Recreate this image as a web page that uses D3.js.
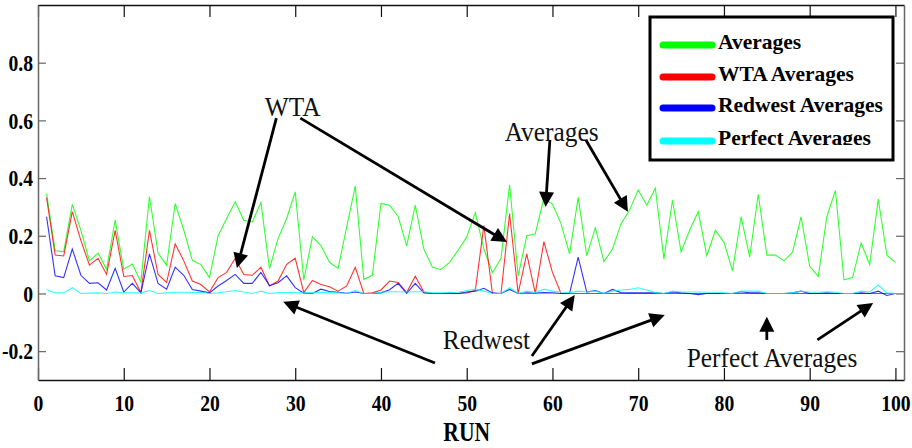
<!DOCTYPE html>
<html>
<head>
<meta charset="utf-8">
<script src="https://cdn.jsdelivr.net/npm/d3@7/dist/d3.min.js"></script>
<style>
  body { margin: 0; background: #fff; }
  svg { display: block; }
</style>
</head>
<body>
<div id="chart"></div>
<script>
//DATA
const runs = d3.range(1, 101);

const averages = [
  0.347, 0.148, 0.145, 0.309, 0.219, 0.113, 0.140, 0.084, 0.254, 0.084,
  0.102, 0.040, 0.336, 0.140, 0.098, 0.312, 0.220, 0.115, 0.100, 0.055,
  0.200, 0.260, 0.318, 0.254, 0.248, 0.315, 0.086, 0.190, 0.260, 0.352,
  0.046, 0.196, 0.166, 0.108, 0.087, 0.230, 0.372, 0.049, 0.063, 0.312,
  0.306, 0.267, 0.165, 0.306, 0.154, 0.091, 0.083, 0.108, 0.150, 0.196,
  0.280, 0.154, 0.072, 0.122, 0.377, 0.061, 0.200, 0.207, 0.330, 0.310,
  0.242, 0.137, 0.333, 0.131, 0.228, 0.110, 0.154, 0.242, 0.289, 0.359,
  0.306, 0.365, 0.119, 0.324, 0.144, 0.219, 0.284, 0.131, 0.219, 0.178,
  0.078, 0.266, 0.126, 0.344, 0.133, 0.133, 0.113, 0.143, 0.266, 0.094,
  0.059, 0.266, 0.357, 0.047, 0.055, 0.175, 0.100, 0.327, 0.133, 0.108
];

const wtaAverages = [
  0.332, 0.133, 0.130, 0.284, 0.184, 0.098, 0.122, 0.066, 0.219, 0.059,
  0.062, 0.003, 0.219, 0.066, 0.038, 0.172, 0.113, 0.043, 0.031, 0.005,
  0.055, 0.073, 0.122, 0.066, 0.063, 0.091, 0.026, 0.043, 0.101, 0.122,
  0.003, 0.045, 0.031, 0.023, 0.008, 0.026, 0.091, 0.000, 0.002, 0.012,
  0.043, 0.038, 0.003, 0.060, 0.005, 0.000, 0.000, 0.000, 0.000, 0.002,
  0.010, 0.235, 0.000, 0.000, 0.277, 0.000, 0.137, 0.000, 0.180, 0.073,
  0.000, 0.000, 0.000, 0.000, 0.000, 0.000, 0.000, 0.000, 0.000, 0.000,
  0.000, 0.000, 0.000, 0.000, 0.000, 0.000, 0.000, 0.000, 0.000, 0.000,
  0.000, 0.000, 0.000, 0.000, 0.000, 0.000, 0.000, 0.000, 0.000, 0.000,
  0.000, 0.000, 0.000, 0.000, 0.000, 0.000, 0.000, 0.000, 0.000, 0.000
];

const redwestAverages = [
  0.266, 0.061, 0.055, 0.154, 0.063, 0.035, 0.037, 0.012, 0.087, 0.005,
  0.035, 0.002, 0.137, 0.035, 0.015, 0.091, 0.063, 0.014, 0.008, 0.002,
  0.026, 0.045, 0.066, 0.035, 0.035, 0.073, 0.027, 0.037, 0.061, 0.020,
  0.001, 0.000, 0.015, 0.007, 0.004, 0.001, 0.005, 0.000, 0.000, 0.002,
  0.013, 0.035, 0.000, 0.035, 0.002, 0.000, 0.000, 0.001, 0.000, 0.005,
  0.008, 0.018, 0.002, 0.000, 0.014, 0.000, 0.002, 0.001, 0.003, 0.002,
  0.000, 0.000, 0.126, 0.005, 0.010, 0.000, 0.014, 0.003, 0.002, 0.002,
  0.002, 0.002, 0.000, 0.005, 0.002, 0.000, -0.004, 0.000, 0.000, 0.000,
  0.000, 0.006, 0.002, 0.002, 0.000, 0.000, 0.000, 0.002, 0.008, 0.000,
  0.000, 0.002, 0.000, 0.000, 0.000, 0.002, 0.000, 0.008, -0.007, 0.000
];

const perfectAverages = [
  0.014, 0.002, 0.002, 0.020, 0.000, 0.001, 0.002, 0.000, 0.005, 0.002,
  0.002, 0.002, 0.010, 0.000, 0.002, 0.004, 0.004, 0.003, 0.004, 0.000,
  0.002, 0.006, 0.010, 0.005, 0.000, 0.008, 0.000, 0.003, 0.003, 0.003,
  0.002, 0.002, 0.004, 0.003, 0.002, 0.000, 0.010, 0.000, 0.000, 0.004,
  0.006, 0.006, 0.005, 0.006, 0.006, 0.002, 0.002, 0.003, 0.004, 0.010,
  0.015, 0.008, 0.000, 0.000, 0.020, 0.000, 0.008, 0.003, 0.015, 0.008,
  0.005, 0.003, 0.008, 0.005, 0.008, 0.000, 0.008, 0.012, 0.014, 0.020,
  0.012, 0.003, 0.000, 0.008, 0.005, 0.005, 0.005, 0.004, 0.004, 0.002,
  0.000, 0.008, 0.008, 0.008, 0.000, 0.000, 0.000, 0.002, 0.008, 0.004,
  0.004, 0.006, 0.004, 0.000, 0.000, 0.008, 0.005, 0.029, 0.002, 0.000
];

const seriesNames = ["Averages", "WTA Averages", "Redwest Averages", "Perfect Averages"];
const seriesValues = [averages, wtaAverages, redwestAverages, perfectAverages];

const xTicks = [0, 10, 20, 30, 40, 50, 60, 70, 80, 90, 100];
const yTicks = [-0.2, 0, 0.2, 0.4, 0.6, 0.8];
const xLabel = "RUN";

//annotations: label position and arrows, in data units [run, value]
const notes = [
  { text: "WTA", at: [29.7, 0.615],
    arrows: [[[27.8, 0.608], [23.2, 0.088]], [[30.6, 0.608], [54.7, 0.178]]] },
  { text: "Averages", at: [59.9, 0.529],
    arrows: [[[59.7, 0.532], [59.2, 0.300]], [[63.9, 0.532], [68.8, 0.283]]] },
  { text: "Redwest", at: [52.3, -0.192],
    arrows: [[[46.3, -0.241], [28.6, -0.029]], [[57.6, -0.217], [62.6, -0.005]], [[57.6, -0.244], [73.1, -0.075]]] },
  { text: "Perfect Averages", at: [85.6, -0.255],
    arrows: [[[85.0, -0.161], [85.0, -0.081]], [[90.9, -0.161], [97.4, -0.033]]] }
];

//SETTINGS
const width = 912;
const height = 448;
const plot = { left: 38, right: 904, top: 5, bottom: 380 };
const colors = ["#00ff00", "#ff0000", "#0000ff", "#00ffff"];
const serif = "'Liberation Serif', 'Times New Roman', serif";

const svg = d3.select("#chart")
  .append("svg")
  .attr("width", width)
  .attr("height", height);

const x = d3.scaleLinear().domain([0, 101]).range([plot.left, plot.right]);
const y = d3.scaleLinear().domain([-0.3, 1.0]).range([plot.bottom, plot.top]);

//AXES (ticks point inward on all four sides)
function styleAxis(g, color) {
  g.selectAll("path.domain").attr("stroke", color).attr("stroke-width", 1.5);
  g.selectAll(".tick line").attr("stroke", color).attr("stroke-width", 1.2);
  g.selectAll(".tick text")
    .attr("font-family", serif)
    .attr("font-weight", "bold")
    .attr("font-size", 24)
    .attr("fill", "#000")
    .attr("transform", "scale(0.82,1)");
}

svg.append("g")
  .attr("transform", `translate(0,${plot.bottom})`)
  .call(d3.axisBottom(x).tickValues(xTicks).tickSizeInner(-12).tickSizeOuter(0).tickPadding(14).tickFormat(d => String(d)))
  .call(g => styleAxis(g, "#111"));

svg.append("g")
  .attr("transform", `translate(0,${plot.top})`)
  .call(d3.axisTop(x).tickValues(xTicks).tickSizeInner(-12).tickSizeOuter(0).tickFormat(""))
  .call(g => styleAxis(g, "#111"));

svg.append("g")
  .attr("transform", `translate(${plot.left},0)`)
  .call(d3.axisLeft(y).tickValues(yTicks).tickSizeInner(-8).tickSizeOuter(0).tickPadding(6).tickFormat(d => String(d)))
  .call(g => styleAxis(g, "#666"));

svg.append("g")
  .attr("transform", `translate(${plot.right},0)`)
  .call(d3.axisRight(y).tickValues(yTicks).tickSizeInner(-8).tickSizeOuter(0).tickFormat(""))
  .call(g => styleAxis(g, "#666"));

svg.append("text")
  .attr("transform", `translate(${x(50)},441) scale(0.8,1)`)
  .attr("text-anchor", "middle")
  .attr("font-family", serif)
  .attr("font-weight", "bold")
  .attr("font-size", 27)
  .text(xLabel);

//SERIES
const line = d3.line()
  .x((d, i) => x(runs[i]))
  .y(d => y(d));

seriesValues.forEach((values, k) => {
  svg.append("path")
    .datum(values)
    .attr("fill", "none")
    .attr("stroke", colors[k])
    .attr("stroke-opacity", 0.8)
    .attr("stroke-width", 1.1)
    .attr("d", line);
});

//ANNOTATIONS
function drawArrow(from, to) {
  const x1 = x(from[0]), y1 = y(from[1]);
  const x2 = x(to[0]), y2 = y(to[1]);
  const ang = Math.atan2(y2 - y1, x2 - x1);
  const headLen = 15, headHalf = 7.5;
  const bx = x2 - headLen * Math.cos(ang);
  const by = y2 - headLen * Math.sin(ang);
  svg.append("line")
    .attr("x1", x1).attr("y1", y1)
    .attr("x2", bx + 2 * Math.cos(ang)).attr("y2", by + 2 * Math.sin(ang))
    .attr("stroke", "#000")
    .attr("stroke-width", 2.8);
  const px = -Math.sin(ang), py = Math.cos(ang);
  svg.append("path")
    .attr("d", `M${x2},${y2}L${bx + headHalf * px},${by + headHalf * py}L${bx - headHalf * px},${by - headHalf * py}Z`)
    .attr("fill", "#000");
}

notes.forEach(n => {
  svg.append("text")
    .attr("transform", `translate(${x(n.at[0])},${y(n.at[1])}) scale(0.94,1)`)
    .attr("text-anchor", "middle")
    .attr("font-family", serif)
    .attr("font-size", 27)
    .attr("fill", "#111")
    .text(n.text);
  n.arrows.forEach(a => drawArrow(a[0], a[1]));
});

//LEGEND
const legend = svg.append("g");
legend.append("rect")
  .attr("x", 650).attr("y", 17)
  .attr("width", 243).attr("height", 143)
  .attr("fill", "#fff")
  .attr("stroke", "#000")
  .attr("stroke-width", 3);

svg.append("clipPath").attr("id", "legend-clip")
  .append("rect").attr("x", 652).attr("y", 19).attr("width", 239).attr("height", 126);

const legendRows = legend.append("g").attr("clip-path", "url(#legend-clip)");
const rowY = [45, 77, 108, 141];
seriesNames.forEach((name, k) => {
  legendRows.append("line")
    .attr("x1", 663).attr("x2", 712)
    .attr("y1", rowY[k]).attr("y2", rowY[k])
    .attr("stroke", colors[k])
    .attr("stroke-width", 7)
    .attr("stroke-linecap", "round");
  legendRows.append("text")
    .attr("x", 718)
    .attr("y", rowY[k] + 4)
    .attr("font-family", serif)
    .attr("font-weight", "bold")
    .attr("font-size", 21.5)
    .attr("fill", "#000")
    .text(name);
});
</script>
</body>
</html>
